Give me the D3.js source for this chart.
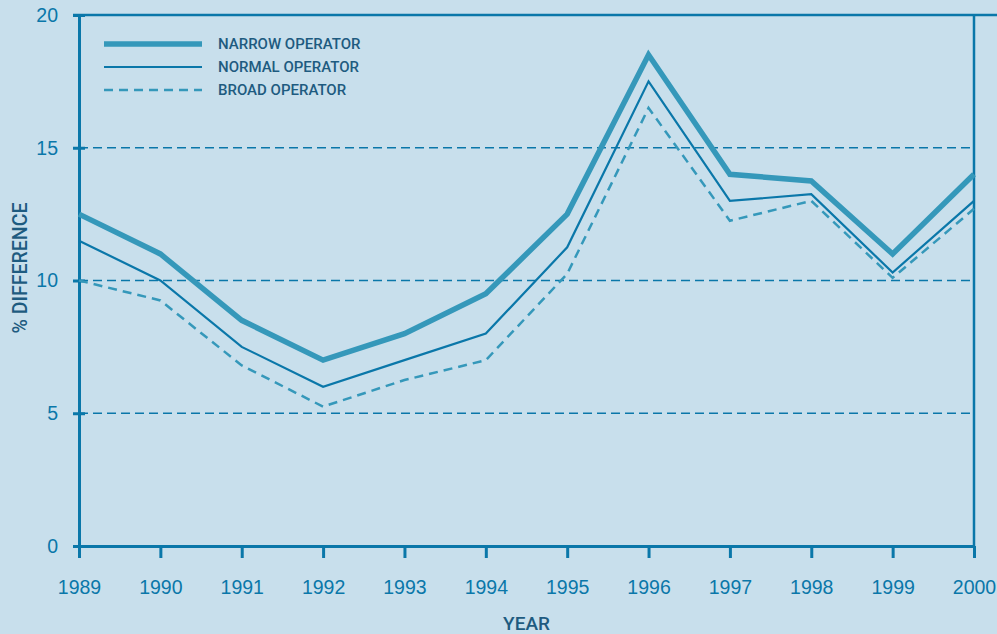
<!DOCTYPE html>
<html>
<meta charset="utf-8">
<title>% DIFFERENCE</title>
<style>
  body { margin: 0; background: #c8dfec; }
  svg { display: block; font-family: Roboto, "DejaVu Sans", sans-serif; }
</style>
<script src="https://d3js.org/d3.v7.min.js"></script>
<body>
<script>
  // data
  var years = [1989, 1990, 1991, 1992, 1993, 1994, 1995, 1996, 1997, 1998, 1999, 2000];
  var narrow = [12.5, 11.0, 8.5, 7.0, 8.0, 9.5, 12.5, 18.5, 14.0, 13.75, 11.0, 14.0];
  var normal = [11.5, 10.0, 7.5, 6.0, 7.0, 8.0, 11.25, 17.5, 13.0, 13.25, 10.3, 13.0];
  var broad  = [10.0, 9.25, 6.8, 5.25, 6.25, 7.0, 10.25, 16.5, 12.25, 13.0, 10.1, 12.7];
  var yTicks = [0, 5, 10, 15, 20];
  var gridVals = [5, 10, 15];
  var seriesNames = ['NARROW OPERATOR', 'NORMAL OPERATOR', 'BROAD OPERATOR'];

  var width = 997, height = 634;
  var margin = {top: 15, right: 23, bottom: 88, left: 79};
  var axisColor = '#0a77a9';
  var lightLine = '#3598ba';
  var textDark = '#1e5b80';

  var svg = d3.select('body').append('svg')
      .attr('width', width)
      .attr('height', height);

  var x = d3.scaleLinear()
      .domain([1989, 2000])
      .range([margin.left, width - margin.right]);
  var y = d3.scaleLinear()
      .domain([0, 20])
      .range([height - margin.bottom, margin.top]);

  // dashed gridlines
  svg.selectAll('.grid')
    .data(gridVals)
    .enter().append('line')
      .attr('x1', x(1989)).attr('x2', x(2000))
      .attr('y1', function(d) { return y(d); })
      .attr('y2', function(d) { return y(d); })
      .attr('stroke', axisColor)
      .attr('stroke-width', 1.3)
      .attr('stroke-dasharray', '9,5');

  // top border line and right border
  svg.append('line')
      .attr('x1', x(1989) - 6).attr('x2', width)
      .attr('y1', y(20)).attr('y2', y(20))
      .attr('stroke', axisColor).attr('stroke-width', 2.5);
  svg.append('line')
      .attr('x1', x(2000)).attr('x2', x(2000))
      .attr('y1', y(20)).attr('y2', y(0))
      .attr('stroke', axisColor).attr('stroke-width', 2.5);

  // axes
  var yAxis = d3.axisLeft(y).tickValues(yTicks).tickSizeInner(6).tickSizeOuter(0).tickPadding(15);
  var xAxis = d3.axisBottom(x).tickValues(years).tickFormat(d3.format('d')).tickSizeInner(12).tickSizeOuter(0).tickPadding(22);

  var gy = svg.append('g')
      .attr('transform', 'translate(' + margin.left + ',0)')
      .call(yAxis);
  var gx = svg.append('g')
      .attr('transform', 'translate(0,' + y(0) + ')')
      .call(xAxis);

  [gx, gy].forEach(function(g) {
    g.select('.domain').attr('stroke', axisColor).attr('stroke-width', 3);
    g.selectAll('.tick line').attr('stroke', axisColor).attr('stroke-width', 3);
    g.selectAll('.tick text')
      .attr('fill', axisColor)
      .style('font-size', '19.5px')
      .style('font-weight', 500);
  });
  // y ticks cross the axis
  gy.selectAll('.tick line').attr('x1', 6);

  // lines
  var line = d3.line()
      .x(function(d, i) { return x(years[i]); })
      .y(function(d) { return y(d); });

  svg.append('path').datum(broad)
      .attr('d', line).attr('fill', 'none')
      .attr('stroke', lightLine).attr('stroke-width', 2.5)
      .attr('stroke-dasharray', '9,6');
  svg.append('path').datum(normal)
      .attr('d', line).attr('fill', 'none')
      .attr('stroke', axisColor).attr('stroke-width', 2.2);
  svg.append('path').datum(narrow)
      .attr('d', line).attr('fill', 'none')
      .attr('stroke', lightLine).attr('stroke-width', 5.5);

  // legend
  var styles = [
    {color: lightLine, w: 5.5, dash: null},
    {color: axisColor, w: 2.2, dash: null},
    {color: lightLine, w: 2.5, dash: '9,6'}
  ];
  var legend = svg.selectAll('.legend')
    .data(seriesNames)
    .enter().append('g')
      .attr('transform', function(d, i) { return 'translate(104,' + (44 + i * 23) + ')'; });
  legend.append('line')
      .attr('x1', 0).attr('x2', 98)
      .attr('stroke', function(d, i) { return styles[i].color; })
      .attr('stroke-width', function(d, i) { return styles[i].w; })
      .attr('stroke-dasharray', function(d, i) { return styles[i].dash; });
  legend.append('text')
      .attr('x', 114).attr('dy', '0.36em')
      .attr('fill', textDark)
      .style('font-size', '15px')
      .style('font-weight', 500)
      .text(function(d) { return d; });

  // axis titles
  svg.append('text')
      .attr('x', (x(1989) + x(2000)) / 2)
      .attr('y', 630)
      .attr('text-anchor', 'middle')
      .attr('fill', textDark)
      .style('font-size', '19px')
      .style('font-weight', 500)
      .text('YEAR');
  svg.append('text')
      .attr('transform', 'translate(27,' + 268 + ') rotate(-90)')
      .attr('text-anchor', 'middle')
      .attr('fill', textDark)
      .style('font-size', '19.5px')
      .style('font-weight', 500)
      .text('% DIFFERENCE');
</script>
</body>
</html>
